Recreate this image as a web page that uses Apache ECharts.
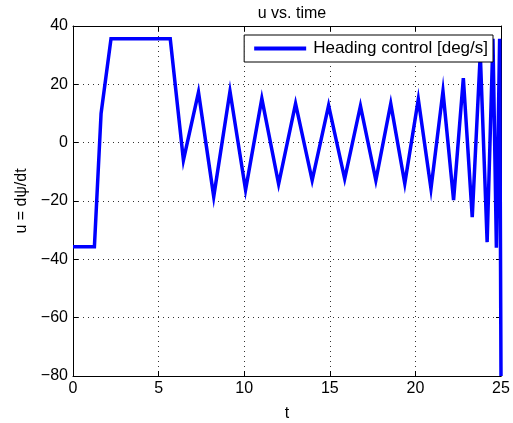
<!DOCTYPE html>
<html>
<head>
<meta charset="utf-8">
<script src="https://cdn.jsdelivr.net/npm/echarts@6/dist/echarts.min.js"></script>
<style>html,body{margin:0;padding:0;background:#fff}#c{width:513px;height:423px}</style>
</head>
<body>
<div id="c"></div>
<script>
const tValues = [0, 1.25, 1.64, 2.22, 5.68, 6.45, 7.33, 8.22, 9.17, 10.08, 11.03, 12.01, 13.0, 13.97, 14.93, 15.87, 16.79, 17.69, 18.56, 19.38, 20.17, 20.91, 21.61, 22.23, 22.8, 23.32, 23.79, 24.19, 24.53, 24.73, 24.92, 25];
const uValues = [-35.7, -35.7, 10, 35.6, 35.6, -6, 17.3, -18.5, 17.6, -16.2, 15.1, -14.2, 13.4, -12.9, 12.8, -12.4, 12.6, -12.9, 13.4, -14, 14.9, -15.8, 17.6, -19.7, 22.1, -25.5, 30.5, -34.1, 35.6, -36, 35.6, -80];
const xTicks = [0, 5, 10, 15, 20, 25];
const yTicks = [-80, -60, -40, -20, 0, 20, 40];
const seriesName = 'Heading control [deg/s]';
const titleText = 'u vs. time';
const xLabel = 't';
const yLabel = 'u = dψ/dt';

const font = '"Liberation Sans", Arial, sans-serif';
const fmt = v => String(v).replace('-', '\u2212');
const data = tValues.map((t, i) => [t, uValues[i]]);

const chart = echarts.init(document.getElementById('c'), null, {renderer: 'canvas'});
const axisCommon = {
  type: 'value',
  axisLine: {show: true, onZero: false, lineStyle: {color: '#000', width: 1}},
  axisTick: {show: true, inside: true, length: 5, lineStyle: {color: '#000'}},
};
chart.setOption({
  animation: false,
  title: {
    text: titleText, left: 287, top: 1, textAlign: 'center',
    textStyle: {fontFamily: font, fontSize: 16, fontWeight: 'normal', color: '#000'}
  },
  grid: {left: 73, right: 12, top: 26, bottom: 47, containLabel: false, outerBoundsMode: 'none'},
  legend: {
    right: 20, top: 35,
    backgroundColor: '#fff', borderColor: '#000', borderWidth: 1,
    padding: [5, 5, 5, 10],
    icon: 'rect', itemWidth: 52, itemHeight: 4, itemGap: 6,
    textStyle: {fontFamily: font, fontSize: 17, color: '#000', padding: [0, 0, 0, 2]},
    data: [seriesName]
  },
  xAxis: [
    Object.assign({}, axisCommon, {
      min: 0, max: 25, interval: 5, position: 'bottom',
      name: xLabel, nameLocation: 'middle', nameGap: 30,
      nameTextStyle: {fontFamily: font, fontSize: 16, color: '#000'},
      axisLabel: {fontFamily: font, fontSize: 16, color: '#000', margin: 5, formatter: fmt},
      splitLine: {show: true, lineStyle: {color: '#333', type: [1, 4], width: 1}}
    }),
    Object.assign({}, axisCommon, {
      min: 0, max: 25, interval: 5, position: 'top',
      axisLabel: {show: false}, splitLine: {show: false}
    })
  ],
  yAxis: [
    Object.assign({}, axisCommon, {
      min: -80, max: 40, interval: 20, position: 'left',
      name: yLabel, nameLocation: 'middle', nameGap: 40, nameRotate: 90,
      nameTextStyle: {fontFamily: font, fontSize: 16, color: '#000'},
      axisLabel: {fontFamily: font, fontSize: 16, color: '#000', margin: 5, formatter: fmt},
      splitLine: {show: true, lineStyle: {color: '#333', type: [1, 4], width: 1}}
    }),
    Object.assign({}, axisCommon, {
      min: -80, max: 40, interval: 20, position: 'right',
      axisLabel: {show: false}, splitLine: {show: false}
    })
  ],
  series: [{
    name: seriesName, type: 'line', data: data,
    xAxisIndex: 0, yAxisIndex: 0,
    showSymbol: false, symbol: 'none',
    lineStyle: {color: '#0000ff', width: 3.5, join: 'miter'},
    itemStyle: {color: '#0000ff'},
    clip: true
  }]
});
</script>
</body>
</html>
